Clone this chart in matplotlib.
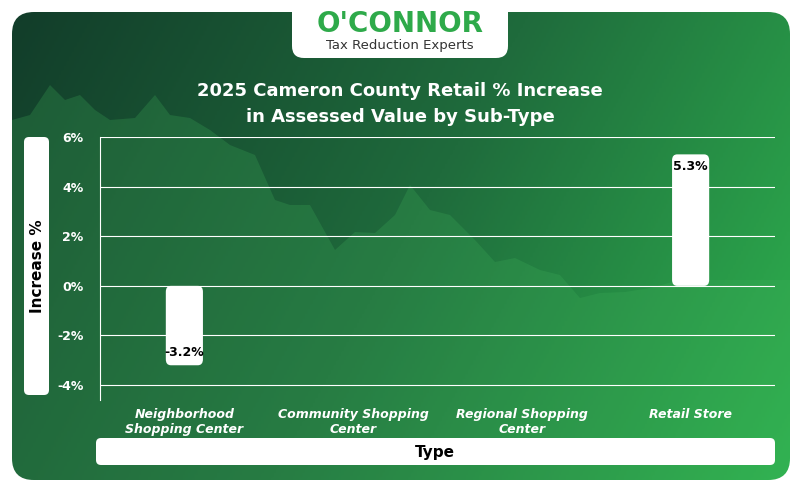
import matplotlib
matplotlib.use("Agg")
import matplotlib.pyplot as plt
import numpy as np
from matplotlib.patches import FancyBboxPatch
from matplotlib.colors import LinearSegmentedColormap

categories = ["Neighborhood\nShopping Center", "Community Shopping\nCenter", "Regional Shopping\nCenter", "Retail Store"]
values = [-3.2, None, None, 5.3]
yticks = [-4, -2, 0, 2, 4, 6]

fig = plt.figure(figsize=(8, 4.92), dpi=100)
W, H = 800, 492

bg = fig.add_axes([0, 0, 1, 1], zorder=0)
bg.set_xlim(0, W); bg.set_ylim(H, 0); bg.axis("off")
cmap = LinearSegmentedColormap.from_list("g", ["#123d2a", "#1f6b3c", "#2eb34f"])
xx, yy = np.meshgrid(np.linspace(0, 1, 300), np.linspace(0, 1, 200))
grad = np.clip(0.75 * xx + 0.25 * yy, 0, 1)
im = bg.imshow(grad, cmap=cmap, extent=[12, 790, 480, 12], aspect="auto")
card = FancyBboxPatch((12, 12), 778, 468, boxstyle="round,pad=0,rounding_size=22",
                      transform=bg.transData, facecolor="none", edgecolor="none")
bg.add_patch(card)
im.set_clip_path(card)
mx = [12, 30, 50, 65, 80, 95, 110, 135, 155, 170, 190, 210, 230, 255, 275, 290, 310, 335, 355, 375, 395, 410, 430, 450, 475, 495, 515, 540, 560, 580, 600, 625, 650, 680, 790, 790, 12]
my = [120, 115, 85, 100, 95, 110, 120, 118, 95, 115, 118, 130, 145, 155, 200, 205, 205, 250, 232, 233, 215, 185, 210, 215, 240, 262, 258, 270, 275, 298, 293, 292, 288, 280, 280, 480, 480]
poly = plt.Polygon(list(zip(mx, my)), closed=True, facecolor="#3fb05a", alpha=0.25, edgecolor="none")
bg.add_patch(poly)
poly.set_clip_path(card)

bg.add_patch(FancyBboxPatch((292, 0), 216, 58, boxstyle="round,pad=0,rounding_size=12",
                            facecolor="white", edgecolor="none"))
bg.text(400, 24, "O'CONNOR", color="#2eaa4a", fontsize=20, fontweight="bold", ha="center", va="center")
bg.text(400, 46, "Tax Reduction Experts", color="#333333", fontsize=9.5, ha="center", va="center")

bg.text(400, 104, "2025 Cameron County Retail % Increase\nin Assessed Value by Sub-Type", color="white",
        fontsize=13, fontweight="bold", ha="center", va="center", linespacing=1.5)

bg.add_patch(FancyBboxPatch((24, 137), 25, 258, boxstyle="round,pad=0,rounding_size=5",
                            facecolor="white", edgecolor="none"))
bg.text(37, 266, "Increase %", rotation=90, fontsize=11, fontweight="bold", ha="center", va="center", color="black")
bg.add_patch(FancyBboxPatch((96, 438), 679, 27, boxstyle="round,pad=0,rounding_size=5",
                            facecolor="white", edgecolor="none"))
bg.text(435, 452, "Type", fontsize=11, fontweight="bold", ha="center", va="center", color="black")

ax = fig.add_axes([100 / W, 1 - 400 / H, 675 / W, 263 / H], zorder=1)
ax.patch.set_alpha(0)
ax.set_xlim(-0.5, 3.5)
ax.set_ylim(-4.6, 6)
ax.set_yticks(yticks)
ax.set_yticklabels([f"{t}%" for t in yticks], color="white", fontsize=9, fontweight="bold")
ax.yaxis.grid(True, color="white", linewidth=0.8)
ax.set_axisbelow(True)
for s in ["top", "right", "bottom"]:
    ax.spines[s].set_visible(False)
ax.spines["left"].set_color("white")
ax.tick_params(axis="y", length=0, pad=12)
ax.tick_params(axis="x", length=0, pad=6)
ax.set_xticks(range(len(categories)))
ax.set_xticklabels(categories, color="white", fontsize=9, fontweight="bold", style="italic")

for i, v in enumerate(values):
    if v is None:
        continue
    y0 = min(0, v)
    ax.add_patch(FancyBboxPatch((i - 0.11, y0), 0.22, abs(v),
                                boxstyle="round,pad=0,rounding_size=0.03", mutation_aspect=8,
                                facecolor="white", edgecolor="none", zorder=3))
    ty = v + 0.5 if v < 0 else v - 0.5
    ax.text(i, ty, f"{v}%", ha="center", va="center", fontsize=9, fontweight="bold", zorder=4)

fig.savefig("out.png", dpi=100)
